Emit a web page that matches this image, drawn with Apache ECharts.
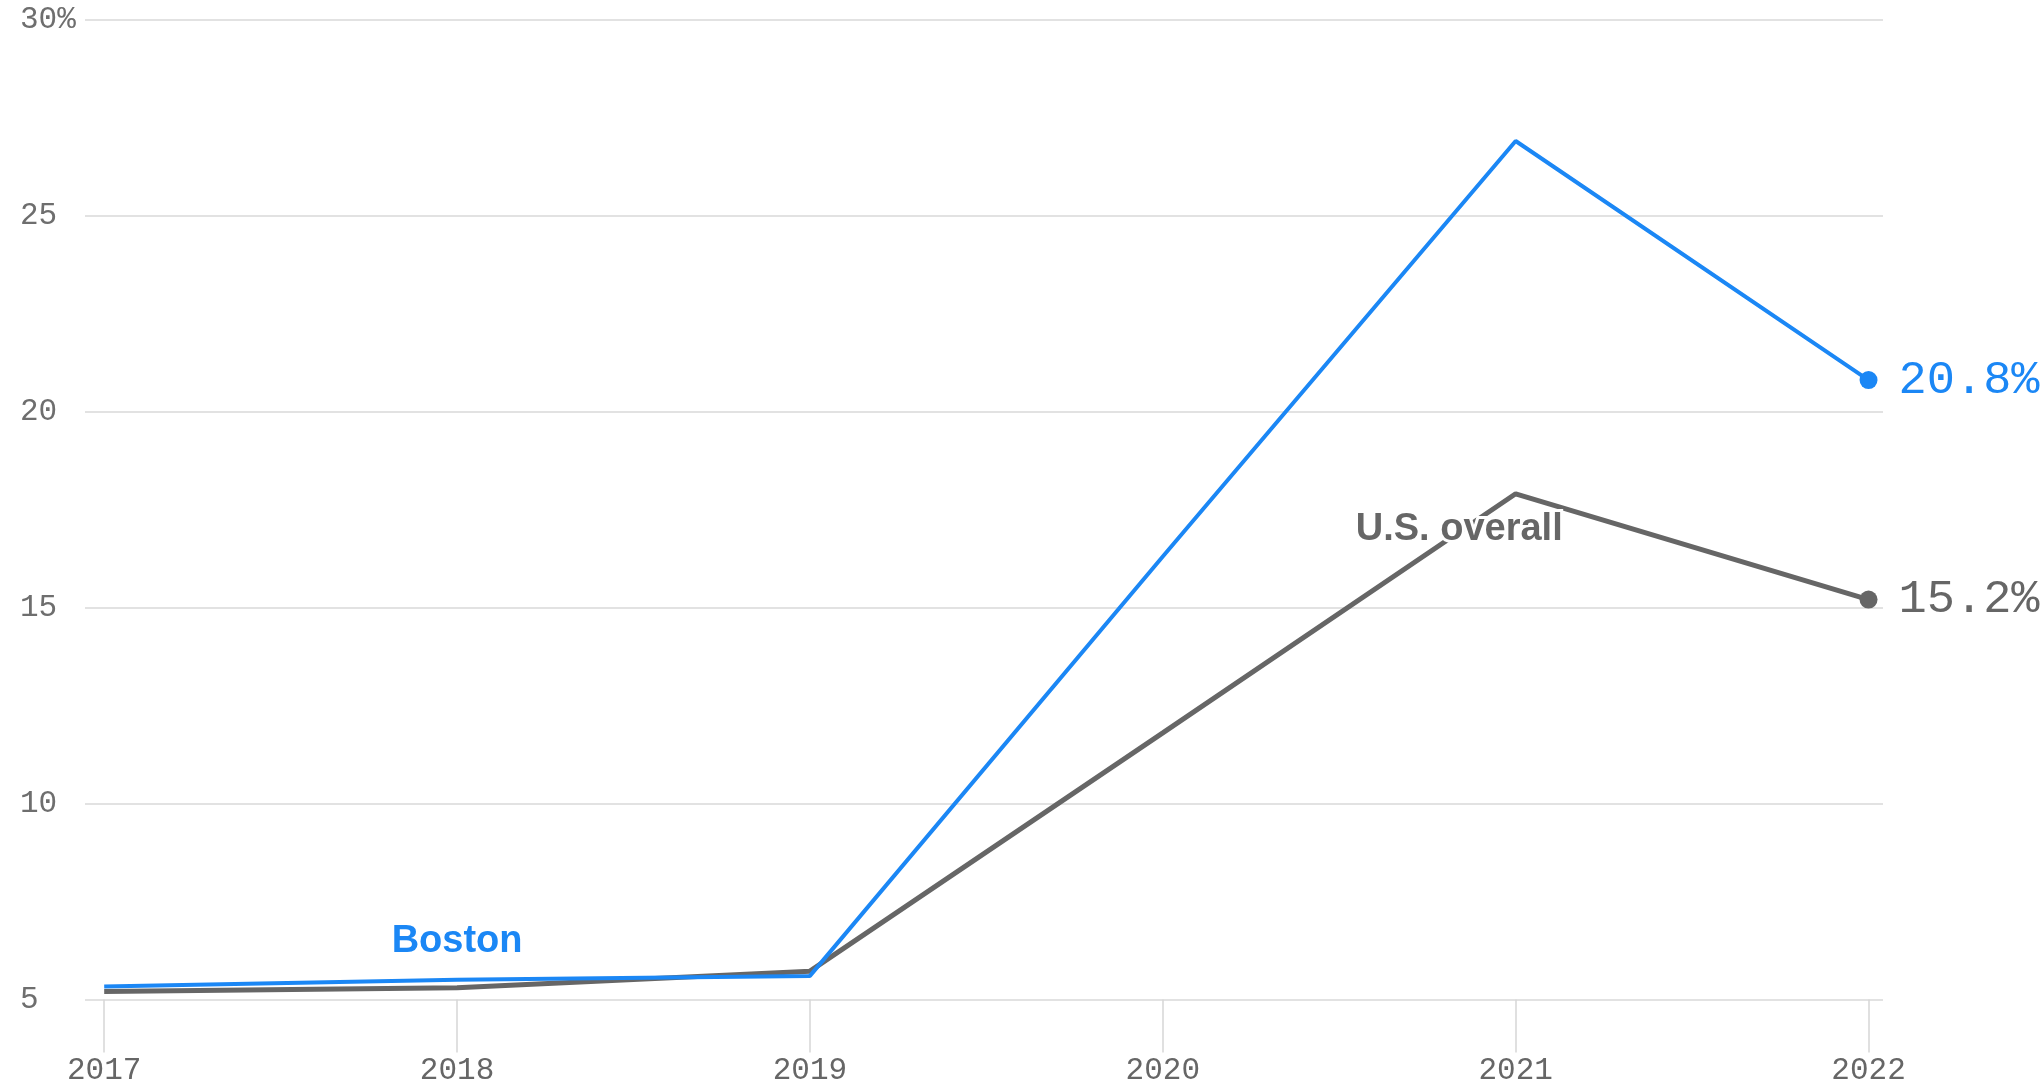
<!DOCTYPE html>
<html>
<head>
<meta charset="utf-8">
<script src="https://cdn.jsdelivr.net/npm/echarts@6/dist/echarts.min.js"></script>
<style>
html,body{margin:0;padding:0;background:#fff;}
#main{width:2043px;height:1088px;}
</style>
</head>
<body>
<div id="main"></div>
<script>
const years = [2017, 2018, 2019, 2020, 2021, 2022];
const boston = [5.33, 5.5, 5.6, 16.3, 26.9, 20.8];
const usOverall = [5.2, 5.3, 5.72, 11.8, 17.9, 15.2];
const yTicks = [5, 10, 15, 20, 25, 30];

const BLUE = '#1b87f5';
const GRAY = '#666666';
const MONO = '"Liberation Mono", "DejaVu Sans Mono", monospace';
const SANS = '"Liberation Sans", Arial, sans-serif';

const chart = echarts.init(document.getElementById('main'), null, {renderer: 'canvas'});

function pairs(vals) { return years.map((y, i) => [y, vals[i]]); }

const lastIdx = years.length - 1;

function seriesFor(name, vals, color, width) {
  return {
    name: name,
    type: 'line',
    data: pairs(vals).map((p, i) => i === lastIdx ? {
      value: p,
      symbol: 'circle',
      symbolSize: 18,
      itemStyle: {color: color},
      label: {
        show: true,
        position: 'right',
        distance: 21,
        formatter: v => v.value[1].toFixed(1) + '%',
        color: color,
        fontFamily: MONO,
        fontSize: 47
      }
    } : {value: p, symbol: 'none'}),
    showSymbol: true,
    lineStyle: {color: color, width: width},
    itemStyle: {color: color},
    silent: true,
    animation: false
  };
}

const sBoston = seriesFor('Boston', boston, BLUE, 4);
sBoston.markPoint = {
  symbol: 'circle', symbolSize: 0,
  data: [{coord: [2018, 6.47], value: 'Boston'}],
  label: {show: true, position: 'inside', formatter: 'Boston', color: BLUE, fontFamily: SANS, fontWeight: 'bold', fontSize: 38},
  animation: false
};
const sUS = seriesFor('U.S. overall', usOverall, GRAY, 5);
sUS.markPoint = {
  symbol: 'circle', symbolSize: 0,
  data: [{coord: [2020.84, 16.98], value: 'U.S. overall'}],
  label: {show: true, position: 'inside', formatter: 'U.S. overall', color: GRAY, fontFamily: SANS, fontWeight: 'bold', fontSize: 38,
          textBorderColor: '#fff', textBorderWidth: 6},
  animation: false
};

chart.setOption({
  backgroundColor: '#fff',
  animation: false,
  grid: {left: 85, right: 160, top: 19.5, bottom: 88.6, containLabel: false},
  xAxis: {
    type: 'value',
    min: 2016.9456,
    max: 2022.041,
    axisLine: {show: false},
    splitLine: {show: false},
    axisTick: {show: true, customValues: years, length: 53, lineStyle: {color: '#d6d6d6', width: 1.5}},
    axisLabel: {customValues: years, margin: 56, color: '#666', fontFamily: MONO, fontSize: 31, formatter: v => String(v)}
  },
  yAxis: {
    type: 'value',
    min: 5, max: 30, interval: 5,
    axisLine: {show: false},
    axisTick: {show: false},
    splitLine: {show: true, lineStyle: {color: '#d9d9d9', width: 1.5}},
    axisLabel: {
      align: 'left', margin: 65, color: '#6e6e6e', fontFamily: MONO, fontSize: 31,
      formatter: v => (v === yTicks[yTicks.length - 1] ? v + '%' : String(v))
    }
  },
  series: [sUS, sBoston]
});
</script>
</body>
</html>
